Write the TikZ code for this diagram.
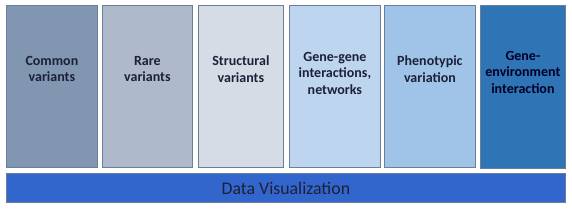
\documentclass[tikz,border=0pt]{standalone}
\usepackage{fontspec}
\setmainfont{Carlito}
\usetikzlibrary{positioning}
\definecolor{edgegray}{HTML}{6B7F99}
\definecolor{inktext}{HTML}{1C2038}
\definecolor{cvfill}{HTML}{8197B1}
\definecolor{rvfill}{HTML}{AEB9CC}
\definecolor{svfill}{HTML}{D6DCE6}
\definecolor{ggfill}{HTML}{BDD5EE}
\definecolor{pvfill}{HTML}{A0C4E8}
\definecolor{gefill}{HTML}{2F74B5}
\definecolor{barfill}{HTML}{3366CC}
\tikzset{
  column/.style={draw=edgegray, line width=0.8bp, minimum height=162bp, inner sep=0pt, anchor=north west},
  coltext/.style={font=\bfseries\fontsize{14bp}{16.5bp}\selectfont, text=inktext, align=center},
}
\begin{document}
\begin{tikzpicture}[x=1bp, y=-1bp]
\useasboundingbox (0,0) rectangle (572,210);
% columns
\node[column, fill=cvfill, minimum width=91bp] (c1) at (6,5) {};
\node[column, fill=rvfill, minimum width=90bp] (c2) at (102,5) {};
\node[column, fill=svfill, minimum width=85bp] (c3) at (198,5) {};
\node[column, fill=ggfill, minimum width=91bp] (c4) at (289,5) {};
\node[column, fill=pvfill, minimum width=91bp] (c5) at (384,5) {};
\node[column, fill=gefill, minimum width=85bp, minimum height=163bp] (c6) at (480,5) {};
% labels
\node[coltext] (t1) at ([yshift=-64bp]c1.north) {Common\\variants};
\node[coltext] (t2) at ([yshift=-64bp]c2.north) {Rare\\variants};
\node[coltext] (t3) at ([yshift=-64bp]c3.north) {Structural\\variants};
\node[coltext] (t4) at ([yshift=-68bp]c4.north) {Gene-gene\\interactions,\\networks};
\node[coltext] (t5) at ([yshift=-64bp]c5.north) {Phenotypic\\variation};
\node[coltext, text=black!85!blue] (t6) at ([yshift=-67bp]c6.north) {Gene-\\environment\\interaction};
% bar
\node[draw=edgegray, line width=0.8bp, fill=barfill, minimum width=559bp, minimum height=29bp,
  inner sep=0pt, anchor=north west, font=\fontsize{17.8bp}{21bp}\selectfont, text=inktext] (viz) at (6,173) {Data Visualization};
\end{tikzpicture}
\end{document}
